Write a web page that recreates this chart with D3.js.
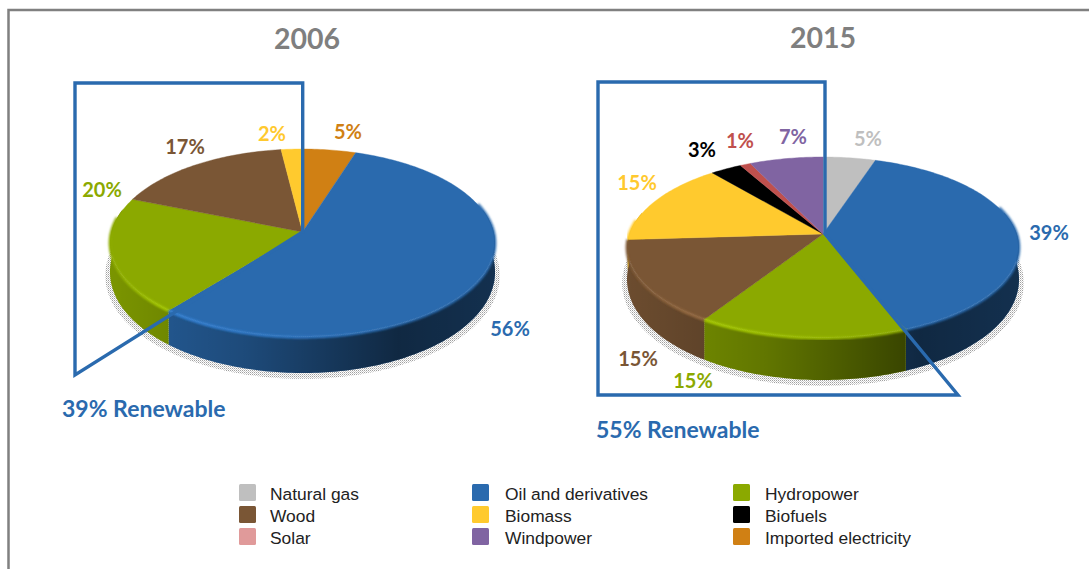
<!DOCTYPE html>
<html><head><meta charset="utf-8">
<style>html,body{margin:0;padding:0;background:#fff;overflow:hidden}svg{display:block}</style>
<script src="https://cdnjs.cloudflare.com/ajax/libs/d3/7.8.5/d3.min.js"></script>
</head><body><svg id="c" width="1089" height="569"></svg>
<script>
// ---- data ----
const legendCategories = ["Natural gas","Oil and derivatives","Hydropower","Wood","Biomass","Biofuels","Solar","Windpower","Imported electricity"];
const slices2006 = ["Imported electricity","Oil and derivatives","Hydropower","Wood","Biomass"];
const values2006 = [5,56,20,17,2];
const slices2015 = ["Natural gas","Oil and derivatives","Hydropower","Wood","Biomass","Biofuels","Solar","Windpower"];
const values2015 = [5,39,15,15,15,3,1,7];
const years = ["2006","2015"];
const renewableLabels = ["39% Renewable","55% Renewable"];

// ---- style & layout ----
const colors = d3.scaleOrdinal().domain(legendCategories).range(["#bfbfbf","#2a6aae","#8ba900","#7a5635","#ffca2e","#000000","#c0504d","#8064a2","#d08014"]);
const legendColors = d3.scaleOrdinal().domain(legendCategories).range(["#bfbfbf","#2a6aae","#8ba900","#7a5635","#ffca2e","#000000","#e09a9a","#8064a2","#d08014"]);
const labelColors = d3.scaleOrdinal().domain(legendCategories).range(["#bfbfbf","#2a6aae","#8ba900","#7a5635","#ffc92e","#000000","#c0504d","#8064a2","#d08014"]);
const blue = "#2a6aae";
const pies = [
 {id:"a",cx:302.5,ay:232,A:191.2,B:92.7,k:.117,side:28,front:36,
  names:slices2006,values:values2006,title:[307,39],renew:[62,409],
  box:[[302.7,83],[75,83],[75,375]],
  labels:[[348,132],[510,329],[102,190],[185,147],[272,134]]},
 {id:"b",cx:823,ay:234,A:193.8,B:88.5,k:.149,side:30,front:42,
  names:slices2015,values:values2015,title:[823,38],renew:[596,430],
  box:[[825,82],[598,82],[598,395],[958,395]],
  labels:[[868,139],[1049,233],[693,381],[638,359],[637,183],[702,150],[740,141],[793,137]]}
];
const legendColsX = [239,472,733], legendRowsY=[484,506,528], swatch=17, legendTextX=[270,505,765];

const svg = d3.select("#c");
const defs = svg.append("defs");
defs.append("filter").attr("id","soft").append("feGaussianBlur").attr("stdDeviation",1);
const pat = defs.append("pattern").attr("id","dots").attr("width",2).attr("height",2).attr("patternUnits","userSpaceOnUse");
pat.append("rect").attr("width",1).attr("height",1).attr("fill","#a0a0a0");
pat.append("rect").attr("x",1).attr("y",1).attr("width",1).attr("height",1).attr("fill","#cfcfcf");

// frame
svg.append("path").attr("d",d3.line()([[8.5,569],[8.5,10],[1089,10]])).attr("fill","none").attr("stroke","#808080").attr("stroke-width",2.5);

const lineGen = d3.line();
const STEP = Math.PI/180;

pies.forEach(p=>{
  const project=(t,r=1,drop=0)=>{
    const u=r*Math.sin(t), v=r*Math.cos(t), w=1+p.k*v;
    const d = drop? p.side - (p.front-p.side)*Math.cos(t):0;
    return [p.cx+p.A*u/w, p.ay-p.B*v/w + d*drop];
  };
  const arcs = d3.pie().sort(null)(p.values);
  const sample=(a,b,fn)=>{const n=Math.max(2,Math.ceil((b-a)/STEP));return d3.range(n+1).map(i=>fn(a+(b-a)*i/n));};
  const g = svg.append("g");

  // halftone halo beneath the pie
  g.append("path").attr("d",lineGen(sample(Math.PI*.42,Math.PI*1.58,t=>{const q=project(t,1.024,1);return [q[0],q[1]+3];}))+"Z").attr("fill","url(#dots)");

  // wall shade gradient
  const gr = defs.append("linearGradient").attr("id","shade"+p.id).attr("gradientUnits","userSpaceOnUse")
     .attr("x1",p.cx-p.A).attr("x2",p.cx+p.A).attr("y1",0).attr("y2",0);
  gr.append("stop").attr("offset",0).attr("stop-color","#000").attr("stop-opacity",.12);
  gr.append("stop").attr("offset",.35).attr("stop-color","#000").attr("stop-opacity",.3);
  gr.append("stop").attr("offset",.75).attr("stop-color","#000").attr("stop-opacity",.62);
  gr.append("stop").attr("offset",1).attr("stop-color","#000").attr("stop-opacity",.55);

  // walls: only the part of each slice that faces the viewer
  arcs.forEach((d,i)=>{
    const a=Math.max(d.startAngle,Math.PI*.42), b=Math.min(d.endAngle,Math.PI*1.58);
    if(b<=a) return;
    const c=colors(p.names[i]);
    const top=sample(a,b,t=>project(t));
    const bot=sample(a,b,t=>project(t,1,1)).reverse();
    const path=lineGen(top.concat(bot))+"Z";
    g.append("path").attr("d",path).attr("fill",c);
    g.append("path").attr("d",path).attr("fill","url(#shade"+p.id+")");
  });
  // soft transition between wall and top surface
  arcs.forEach((d,i)=>{
    const a=Math.max(d.startAngle,Math.PI*.4), b=Math.min(d.endAngle,Math.PI*1.55);
    if(b<=a) return;
    g.append("path").attr("d",lineGen(sample(a,b,t=>project(t,.998))))
      .attr("fill","none").attr("stroke",colors(p.names[i])).attr("stroke-width",3.4).attr("filter","url(#soft)");
  });
  // top surface: full radius at the back, slightly inset at the bevelled front
  arcs.forEach((d,i)=>{
    const c=colors(p.names[i]);
    const rim=sample(d.startAngle,d.endAngle,t=>project(t,.996+.004*Math.cos(t)));
    g.append("path").attr("d",lineGen([[p.cx,p.ay]].concat(rim))+"Z").attr("fill",c).attr("stroke",c).attr("stroke-width",.4);
  });
  // bevel highlight along the front rim
  arcs.forEach((d,i)=>{
    const a=Math.max(d.startAngle,Math.PI*.7), b=Math.min(d.endAngle,Math.PI*1.5);
    if(b<=a) return;
    const c=d3.color(colors(p.names[i])).brighter(.6);
    const id="bev"+p.id+i;
    const bg=defs.append("linearGradient").attr("id",id).attr("gradientUnits","userSpaceOnUse")
      .attr("x1",p.cx-p.A).attr("x2",p.cx+p.A*.5).attr("y1",0).attr("y2",0);
    bg.append("stop").attr("offset",0).attr("stop-color",c).attr("stop-opacity",.1);
    bg.append("stop").attr("offset",.2).attr("stop-color",c).attr("stop-opacity",.95);
    bg.append("stop").attr("offset",.55).attr("stop-color",c).attr("stop-opacity",.6);
    bg.append("stop").attr("offset",1).attr("stop-color",c).attr("stop-opacity",0);
    g.append("path").attr("d",lineGen(sample(a,b,t=>project(t,1))))
      .attr("fill","none").attr("stroke","url(#"+id+")").attr("stroke-width",2.4).attr("filter","url(#soft)");
  });
  // percent labels
  arcs.forEach((d,i)=>{
    g.append("text").attr("x",p.labels[i][0]).attr("y",p.labels[i][1]).attr("dy",".36em").attr("text-anchor","middle")
     .attr("font-family","Lato").attr("font-weight",700).attr("font-size",20)
     .attr("fill",labelColors(p.names[i])).text(p.values[i]+"%");
  });
  // renewable outline
  const apex=[p.box[0][0],p.ay];
  g.append("path").attr("d",lineGen([apex].concat(p.box))+"Z").attr("fill","none").attr("stroke",blue).attr("stroke-width",3.4).attr("stroke-linejoin","miter");
});

// titles and notes
pies.forEach((p,i)=>{
  svg.append("text").attr("x",p.title[0]).attr("y",p.title[1]).attr("dy",".36em").attr("text-anchor","middle")
    .attr("font-family","Lato").attr("font-weight",700).attr("font-size",28.5).attr("fill","#7f7f7f").text(years[i]);
  svg.append("text").attr("x",p.renew[0]).attr("y",p.renew[1]).attr("dy",".36em")
    .attr("font-family","Lato").attr("font-weight",700).attr("font-size",23).attr("fill",blue).text(renewableLabels[i]);
});

// legend
legendCategories.forEach((c,i)=>{
  const col=i%3,row=Math.floor(i/3);
  svg.append("rect").attr("x",legendColsX[col]).attr("y",legendRowsY[row]).attr("width",swatch).attr("height",swatch).attr("rx",1.5)
    .attr("fill",legendColors(c));
  svg.append("text").attr("x",legendTextX[col]).attr("y",legendRowsY[row]+swatch/2+1.5).attr("dy",".36em")
    .attr("font-family","Liberation Sans").attr("font-size",17.4).attr("fill","#222").text(c);
});
</script></body></html>
